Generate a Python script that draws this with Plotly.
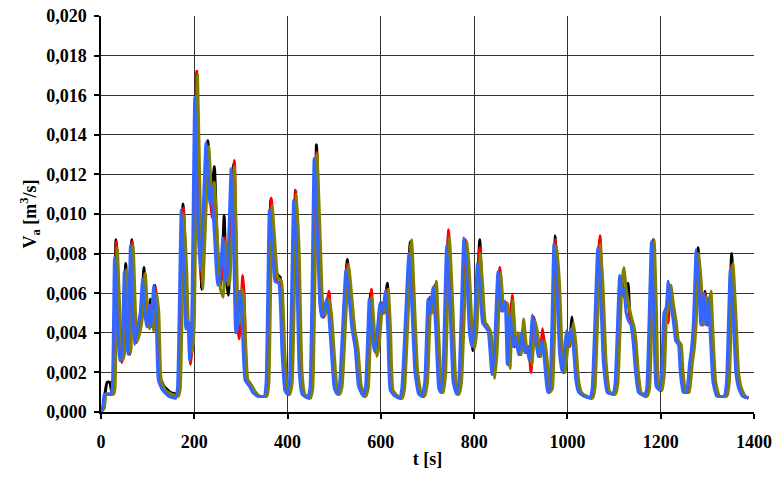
import plotly.graph_objects as go

# (t [s], V_a [m3/s])
black_pts = [
(0,0.0000),(5,0.0003),(9,0.0010),(13,0.0015),(19,0.0015),(23,0.0010),(27,0.0013),(32,0.0087),(39,0.0040),(43,0.0026),
(47,0.0029),(53,0.0075),(58,0.0035),(61,0.0030),(66,0.0087),(71,0.0050),(75,0.0036),(81,0.0041),(87,0.0052),(92,0.0073),
(97,0.0050),(101,0.0043),(106,0.0057),(110,0.0043),(116,0.0064),(121,0.0050),(126,0.0018),(135,0.0013),(148,0.0010),(163,0.0009),
(167,0.0013),(176,0.0105),(181,0.0070),(185,0.0042),(189,0.0045),(193,0.0030),(197,0.0045),(205,0.0171),(210,0.0100),(215,0.0062),
(221,0.0095),(229,0.0137),(234,0.0115),(237,0.0108),(243,0.0124),(249,0.0085),(255,0.0063),(259,0.0070),(264,0.0099),(268,0.0070),
(273,0.0059),(284,0.0125),(288,0.0090),(292,0.0042),(295,0.0044),(300,0.0061),(303,0.0058),(308,0.0030),(312,0.0017),(321,0.0014),
(328,0.0011),(338,0.0008),(353,0.0008),(357,0.0015),(364,0.0107),(370,0.0085),(376,0.0070),(384,0.0068),(391,0.0030),(397,0.0011),
(402,0.0009),(407,0.0015),(417,0.0112),(422,0.0080),(428,0.0020),(434,0.0009),(446,0.0007),(451,0.0012),(462,0.0135),(466,0.0095),
(472,0.0055),(476,0.0048),(479,0.0049),(487,0.0058),(491,0.0050),(497,0.0030),(503,0.0012),(509,0.0009),(514,0.0013),(528,0.0077),
(534,0.0060),(541,0.0042),(548,0.0032),(555,0.0013),(565,0.0008),(570,0.0012),(578,0.0060),(582,0.0045),(588,0.0030),(593,0.0035),
(601,0.0055),(606,0.0050),(614,0.0065),(618,0.0040),(623,0.0011),(633,0.0008),(643,0.0007),(648,0.0012),(663,0.0086),(670,0.0050),
(676,0.0020),(684,0.0009),(691,0.0008),(697,0.0015),(704,0.0057),(708,0.0050),(716,0.0064),(721,0.0040),(727,0.0012),(731,0.0010),
(736,0.0020),(745,0.0089),(751,0.0055),(758,0.0015),(765,0.0009),(770,0.0015),(781,0.0087),(787,0.0070),(793,0.0040),(797,0.0031),
(803,0.0042),(812,0.0087),(816,0.0065),(821,0.0045),(827,0.0044),(833,0.0041),(841,0.0019),(846,0.0030),(854,0.0071),(861,0.0051),
(869,0.0055),(874,0.0024),(880,0.0055),(887,0.0033),(892,0.0038),(898,0.0029),(905,0.0042),(911,0.0030),(916,0.0033),(921,0.0025),
(928,0.0048),(933,0.0040),(940,0.0028),(949,0.0036),(954,0.0025),(960,0.0010),(965,0.0012),(974,0.0089),(980,0.0065),(986,0.0030),
(992,0.0020),(998,0.0035),(1001,0.0038),(1004,0.0034),(1010,0.0048),(1015,0.0035),(1021,0.0016),(1027,0.0010),(1038,0.0008),(1051,0.0007),
(1056,0.0012),(1069,0.0087),(1074,0.0060),(1080,0.0025),(1088,0.0010),(1100,0.0009),(1105,0.0014),(1115,0.0067),(1120,0.0062),(1124,0.0057),
(1130,0.0065),(1134,0.0048),(1139,0.0044),(1144,0.0035),(1149,0.0020),(1155,0.0010),(1168,0.0008),(1173,0.0012),(1184,0.0087),(1188,0.0050),
(1193,0.0013),(1200,0.0011),(1205,0.0020),(1210,0.0050),(1215,0.0053),(1219,0.0064),(1224,0.0055),(1230,0.0046),(1235,0.0036),(1241,0.0034),
(1245,0.0020),(1251,0.0010),(1258,0.0010),(1265,0.0025),(1269,0.0032),(1273,0.0045),(1280,0.0083),(1284,0.0065),(1289,0.0044),(1295,0.0061),
(1300,0.0044),(1305,0.0058),(1309,0.0040),(1315,0.0015),(1323,0.0008),(1339,0.0008),(1344,0.0015),(1352,0.0080),(1358,0.0050),(1364,0.0020),
(1370,0.0012),(1378,0.0008),(1388,0.0007)]

red_pts = [
(0,0.0000),(6,0.0002),(10,0.0009),(24,0.0009),(28,0.0012),(33,0.0086),(40,0.0040),(44,0.0025),(48,0.0028),(54,0.0072),
(59,0.0035),(62,0.0029),(67,0.0086),(72,0.0050),(76,0.0035),(82,0.0040),(88,0.0050),(93,0.0070),(98,0.0050),(102,0.0043),
(107,0.0054),(111,0.0043),(117,0.0063),(122,0.0050),(127,0.0016),(136,0.0011),(149,0.0009),(164,0.0008),(168,0.0012),(177,0.0103),
(182,0.0070),(186,0.0042),(189,0.0040),(192,0.0024),(197,0.0040),(205,0.0172),(211,0.0100),(216,0.0065),(222,0.0095),(229,0.0134),
(234,0.0110),(238,0.0098),(242,0.0112),(247,0.0090),(254,0.0064),(260,0.0070),(265,0.0088),(270,0.0066),(274,0.0068),(286,0.0127),
(289,0.0090),(293,0.0045),(296,0.0037),(304,0.0069),(307,0.0058),(310,0.0030),(313,0.0016),(322,0.0013),(329,0.0010),(339,0.0008),
(354,0.0008),(358,0.0015),(365,0.0108),(371,0.0085),(377,0.0066),(385,0.0065),(392,0.0030),(398,0.0011),(403,0.0009),(408,0.0015),
(418,0.0112),(423,0.0080),(429,0.0020),(435,0.0009),(447,0.0007),(452,0.0012),(463,0.0131),(467,0.0095),(473,0.0055),(477,0.0048),
(480,0.0049),(489,0.0061),(492,0.0050),(498,0.0030),(504,0.0012),(510,0.0009),(515,0.0013),(529,0.0075),(535,0.0060),(542,0.0042),
(549,0.0032),(556,0.0013),(566,0.0008),(571,0.0012),(580,0.0062),(583,0.0045),(589,0.0030),(594,0.0035),(602,0.0055),(607,0.0050),
(614,0.0062),(619,0.0040),(624,0.0011),(634,0.0008),(644,0.0007),(649,0.0012),(664,0.0085),(671,0.0050),(677,0.0020),(685,0.0009),
(692,0.0008),(698,0.0015),(705,0.0058),(709,0.0050),(716,0.0063),(722,0.0040),(728,0.0012),(732,0.0010),(737,0.0020),(745,0.0092),
(752,0.0055),(759,0.0015),(766,0.0009),(771,0.0015),(782,0.0087),(788,0.0070),(794,0.0040),(799,0.0033),(804,0.0042),(812,0.0083),
(816,0.0065),(822,0.0045),(828,0.0043),(834,0.0041),(842,0.0019),(847,0.0030),(855,0.0073),(862,0.0051),(870,0.0055),(875,0.0024),
(882,0.0059),(888,0.0033),(893,0.0038),(899,0.0029),(906,0.0042),(912,0.0030),(917,0.0031),(922,0.0020),(929,0.0047),(934,0.0040),
(941,0.0028),(947,0.0042),(955,0.0025),(961,0.0010),(966,0.0012),(974,0.0087),(981,0.0065),(987,0.0030),(993,0.0020),(999,0.0035),
(1002,0.0040),(1005,0.0033),(1011,0.0043),(1016,0.0035),(1022,0.0016),(1028,0.0010),(1039,0.0008),(1052,0.0007),(1057,0.0012),(1070,0.0089),
(1075,0.0060),(1081,0.0025),(1089,0.0010),(1101,0.0009),(1106,0.0014),(1116,0.0068),(1121,0.0060),(1125,0.0059),(1130,0.0055),(1135,0.0048),
(1140,0.0044),(1145,0.0035),(1150,0.0020),(1156,0.0010),(1169,0.0008),(1174,0.0012),(1184,0.0086),(1189,0.0050),(1194,0.0013),(1201,0.0011),
(1206,0.0020),(1211,0.0050),(1216,0.0045),(1220,0.0063),(1225,0.0055),(1231,0.0046),(1236,0.0036),(1242,0.0034),(1246,0.0020),(1252,0.0010),
(1259,0.0010),(1266,0.0025),(1270,0.0032),(1274,0.0045),(1280,0.0080),(1285,0.0065),(1290,0.0044),(1296,0.0060),(1301,0.0044),(1306,0.0059),
(1310,0.0040),(1316,0.0015),(1324,0.0008),(1340,0.0008),(1345,0.0015),(1352,0.0074),(1359,0.0050),(1365,0.0020),(1371,0.0012),(1379,0.0008),
(1388,0.0007)]

olive_pts = [
(0,0.0000),(7,0.0002),(11,0.0009),(27,0.0009),(30,0.0012),(35,0.0083),(42,0.0040),(46,0.0026),(50,0.0029),(56,0.0072),
(61,0.0035),(64,0.0030),(69,0.0084),(74,0.0050),(78,0.0036),(84,0.0041),(90,0.0050),(95,0.0070),(100,0.0050),(104,0.0042),
(109,0.0052),(113,0.0041),(119,0.0060),(124,0.0050),(129,0.0016),(138,0.0011),(151,0.0009),(166,0.0008),(170,0.0012),(178,0.0100),
(184,0.0070),(188,0.0042),(192,0.0045),(196,0.0030),(200,0.0045),(207,0.0170),(213,0.0100),(218,0.0062),(224,0.0095),(231,0.0134),
(236,0.0115),(239,0.0108),(243,0.0116),(249,0.0090),(256,0.0062),(262,0.0058),(267,0.0086),(272,0.0064),(276,0.0066),(286,0.0124),
(290,0.0090),(295,0.0045),(298,0.0045),(302,0.0062),(306,0.0058),(311,0.0030),(315,0.0016),(324,0.0013),(331,0.0010),(341,0.0008),
(356,0.0008),(360,0.0015),(367,0.0104),(373,0.0085),(379,0.0068),(387,0.0066),(394,0.0030),(400,0.0011),(405,0.0009),(410,0.0015),
(419,0.0110),(425,0.0080),(431,0.0020),(437,0.0009),(449,0.0007),(454,0.0012),(463,0.0130),(469,0.0095),(475,0.0055),(479,0.0049),
(482,0.0050),(489,0.0057),(494,0.0050),(500,0.0030),(506,0.0012),(512,0.0009),(517,0.0013),(531,0.0074),(537,0.0060),(544,0.0042),
(551,0.0032),(558,0.0013),(568,0.0008),(573,0.0012),(581,0.0058),(585,0.0045),(591,0.0028),(596,0.0033),(604,0.0054),(609,0.0050),
(616,0.0062),(621,0.0040),(626,0.0011),(636,0.0008),(646,0.0007),(651,0.0012),(666,0.0087),(673,0.0050),(679,0.0020),(687,0.0009),
(694,0.0008),(700,0.0015),(707,0.0055),(711,0.0050),(719,0.0066),(724,0.0040),(730,0.0012),(734,0.0010),(739,0.0020),(747,0.0088),
(754,0.0055),(761,0.0015),(768,0.0009),(773,0.0015),(785,0.0086),(790,0.0070),(796,0.0040),(801,0.0032),(806,0.0042),(813,0.0080),
(818,0.0065),(824,0.0045),(830,0.0043),(836,0.0040),(844,0.0017),(849,0.0030),(857,0.0070),(864,0.0051),(872,0.0055),(877,0.0022),
(883,0.0056),(890,0.0033),(895,0.0040),(901,0.0029),(906,0.0047),(914,0.0030),(919,0.0033),(924,0.0024),(931,0.0046),(936,0.0040),
(943,0.0028),(952,0.0036),(957,0.0025),(963,0.0010),(968,0.0012),(977,0.0084),(983,0.0065),(989,0.0030),(995,0.0020),(1001,0.0033),
(1004,0.0038),(1007,0.0034),(1013,0.0045),(1018,0.0035),(1024,0.0016),(1030,0.0010),(1041,0.0008),(1054,0.0007),(1059,0.0012),(1071,0.0085),
(1077,0.0060),(1083,0.0025),(1091,0.0010),(1103,0.0009),(1108,0.0014),(1117,0.0066),(1121,0.0073),(1126,0.0062),(1131,0.0055),(1137,0.0048),
(1142,0.0044),(1147,0.0036),(1152,0.0020),(1158,0.0010),(1171,0.0008),(1176,0.0012),(1186,0.0087),(1191,0.0050),(1196,0.0013),(1203,0.0011),
(1208,0.0020),(1213,0.0050),(1218,0.0053),(1222,0.0064),(1227,0.0055),(1233,0.0046),(1238,0.0036),(1244,0.0034),(1248,0.0020),(1254,0.0010),
(1261,0.0010),(1268,0.0025),(1272,0.0032),(1276,0.0045),(1282,0.0080),(1287,0.0065),(1292,0.0044),(1298,0.0058),(1303,0.0046),(1308,0.0061),
(1312,0.0040),(1318,0.0015),(1326,0.0008),(1342,0.0008),(1347,0.0015),(1355,0.0075),(1361,0.0050),(1367,0.0020),(1373,0.0012),(1381,0.0008),
(1388,0.0007)]

blue_pts = [
(0,0.0000),(4,0.0003),(7,0.0009),(20,0.0009),(24,0.0012),(29,0.0078),(36,0.0040),(40,0.0026),(44,0.0028),(50,0.0071),
(55,0.0035),(58,0.0029),(63,0.0084),(68,0.0050),(72,0.0034),(78,0.0042),(84,0.0050),(89,0.0067),(94,0.0050),(98,0.0043),
(103,0.0054),(107,0.0043),(113,0.0064),(118,0.0050),(123,0.0016),(132,0.0011),(145,0.0008),(160,0.0007),(164,0.0012),(172,0.0102),
(178,0.0070),(182,0.0042),(186,0.0046),(190,0.0026),(194,0.0040),(201,0.0159),(207,0.0100),(212,0.0072),(218,0.0095),(225,0.0136),
(230,0.0115),(233,0.0105),(237,0.0114),(243,0.0090),(250,0.0064),(256,0.0070),(261,0.0088),(266,0.0066),(270,0.0068),(279,0.0123),
(284,0.0090),(289,0.0040),(292,0.0042),(296,0.0061),(300,0.0058),(305,0.0030),(309,0.0016),(318,0.0013),(325,0.0010),(335,0.0008),
(350,0.0008),(354,0.0015),(361,0.0102),(367,0.0085),(373,0.0066),(381,0.0065),(388,0.0030),(394,0.0011),(399,0.0009),(404,0.0015),
(413,0.0107),(419,0.0080),(425,0.0020),(431,0.0009),(443,0.0007),(448,0.0012),(457,0.0128),(463,0.0095),(469,0.0055),(473,0.0048),
(476,0.0049),(483,0.0057),(488,0.0050),(494,0.0030),(500,0.0012),(506,0.0009),(511,0.0013),(525,0.0072),(531,0.0060),(538,0.0042),
(545,0.0032),(552,0.0013),(562,0.0008),(567,0.0012),(575,0.0057),(579,0.0045),(585,0.0031),(590,0.0035),(598,0.0055),(603,0.0050),
(610,0.0061),(615,0.0040),(620,0.0011),(630,0.0008),(640,0.0007),(645,0.0012),(660,0.0080),(667,0.0050),(673,0.0020),(681,0.0009),
(688,0.0008),(694,0.0015),(701,0.0057),(705,0.0050),(712,0.0063),(718,0.0040),(724,0.0012),(728,0.0010),(733,0.0020),(741,0.0084),
(748,0.0055),(755,0.0015),(762,0.0009),(767,0.0015),(778,0.0088),(784,0.0070),(790,0.0040),(795,0.0033),(800,0.0042),(807,0.0075),
(812,0.0065),(818,0.0045),(824,0.0043),(830,0.0041),(838,0.0019),(843,0.0030),(851,0.0071),(858,0.0051),(866,0.0056),(871,0.0024),
(877,0.0049),(884,0.0033),(889,0.0038),(895,0.0029),(902,0.0040),(908,0.0030),(913,0.0033),(918,0.0026),(925,0.0049),(930,0.0040),
(937,0.0028),(946,0.0036),(951,0.0025),(957,0.0010),(962,0.0012),(971,0.0085),(977,0.0065),(983,0.0030),(989,0.0020),(995,0.0035),
(998,0.0041),(1001,0.0033),(1007,0.0042),(1012,0.0035),(1018,0.0016),(1024,0.0010),(1035,0.0008),(1048,0.0007),(1053,0.0012),(1065,0.0083),
(1071,0.0060),(1077,0.0025),(1085,0.0010),(1097,0.0009),(1102,0.0014),(1112,0.0069),(1117,0.0059),(1121,0.0062),(1126,0.0050),(1131,0.0046),
(1136,0.0044),(1141,0.0035),(1146,0.0020),(1152,0.0010),(1165,0.0008),(1170,0.0012),(1180,0.0086),(1185,0.0050),(1190,0.0013),(1197,0.0011),
(1202,0.0020),(1207,0.0050),(1212,0.0053),(1216,0.0066),(1221,0.0055),(1227,0.0046),(1232,0.0036),(1238,0.0034),(1242,0.0020),(1248,0.0010),
(1255,0.0010),(1262,0.0025),(1266,0.0032),(1270,0.0045),(1276,0.0082),(1281,0.0065),(1286,0.0044),(1292,0.0060),(1297,0.0044),(1302,0.0057),
(1306,0.0040),(1312,0.0015),(1320,0.0008),(1336,0.0008),(1341,0.0015),(1349,0.0072),(1355,0.0050),(1361,0.0020),(1367,0.0012),(1375,0.0008),
(1388,0.0007)]

x_ticks = [0, 200, 400, 600, 800, 1000, 1200, 1400]
y_ticks = [0.000, 0.002, 0.004, 0.006, 0.008, 0.010, 0.012, 0.014, 0.016, 0.018, 0.020]
y_ticklabels = ["0,000", "0,002", "0,004", "0,006", "0,008", "0,010",
                "0,012", "0,014", "0,016", "0,018", "0,020"]

series = [
    ("black", black_pts, "#000000"),
    ("red", red_pts, "#ff0000"),
    ("olive", olive_pts, "#808000"),
    ("blue", blue_pts, "#3366ff"),
]

fig = go.Figure()
for name, pts, col in series:
    fig.add_trace(go.Scatter(
        x=[p[0] for p in pts], y=[p[1] for p in pts], mode="lines", name=name,
        line=dict(color=col, width=3, shape="spline", smoothing=0.4),
        showlegend=False, hoverinfo="skip"))

font_fam = "Liberation Serif"
tfont = dict(family=font_fam, size=18, color="black")
fig.update_layout(
    width=776, height=477,
    margin=dict(l=101, r=22, t=16, b=65, autoexpand=False),
    plot_bgcolor="white", paper_bgcolor="white",
    font=tfont,
    showlegend=False,
)
fig.update_xaxes(
    range=[0, 1400], tickvals=x_ticks, ticktext=["<b>%d</b>" % v for v in x_ticks],
    showgrid=True, gridcolor="#333333", gridwidth=1,
    showline=True, linecolor="black", linewidth=2,
    ticks="outside", ticklen=5, tickcolor="black", tickwidth=1.5,
    zeroline=False, automargin=False, ticklabelstandoff=7,
    tickfont=tfont,
    title=dict(text="<b>t [s]</b>", font=tfont, standoff=2),
)
fig.update_yaxes(
    range=[0, 0.020], tickvals=y_ticks, ticktext=["<b>%s</b>" % s for s in y_ticklabels],
    showgrid=True, gridcolor="#333333", gridwidth=1,
    showline=True, linecolor="black", linewidth=1.5,
    ticks="outside", ticklen=5, tickcolor="black", tickwidth=1.5,
    zeroline=False, automargin=False, ticklabelstandoff=4,
    tickfont=tfont,
    title=dict(text="<b>V<sub>a</sub> [m<sup>3</sup>/s]</b>", font=tfont, standoff=5),
)

fig.write_html("out.html", config={"displayModeBar": False},
               post_script="document.body.style.margin='0px';document.body.style.padding='0px';")
